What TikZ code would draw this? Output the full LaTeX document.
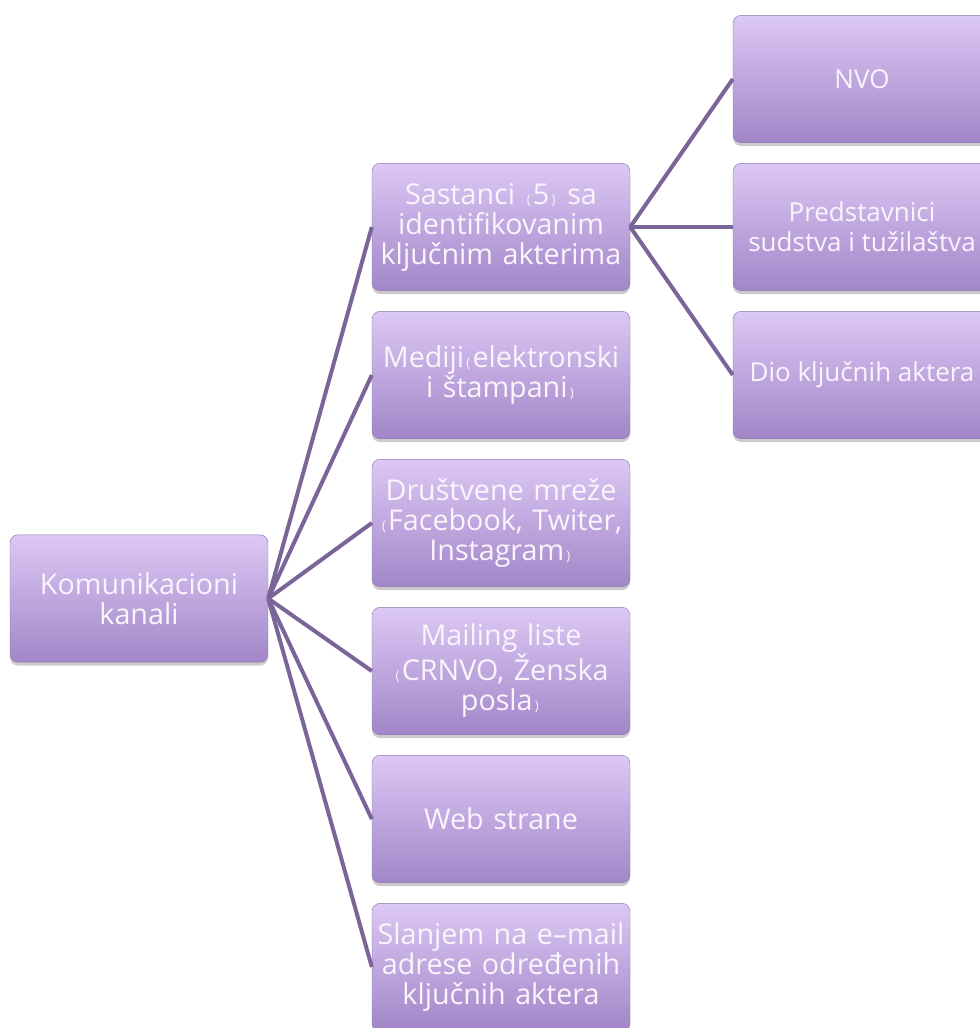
\documentclass[tikz,border=0pt]{standalone}
\usepackage{fontspec}
\setmainfont{Open Sans}
\usetikzlibrary{shadows}

\definecolor{boxtop}{RGB}{220,200,244}
\definecolor{boxbottom}{RGB}{162,134,200}
\definecolor{linkcol}{RGB}{122,101,152}
\definecolor{txtcol}{RGB}{250,244,253}

\newcommand{\smparen}[1]{{\fontsize{10}{10}\selectfont\,#1\,}}

\begin{document}
\begin{tikzpicture}[x=0.75pt,y=0.75pt,yscale=-1,xscale=1,
  okvir/.style={rectangle, rounded corners=6pt, draw=boxbottom!85!black, line width=0.3pt,
    top color=boxtop, bottom color=boxbottom, minimum width=193.5pt, minimum height=95.5pt,
    align=center, text=txtcol, inner sep=0pt,
    drop shadow={opacity=0.4, shadow xshift=0pt, shadow yshift=-2.5pt}},
  kanal/.style={okvir, text width=192pt, font=\fontsize{21.5}{22.5}\selectfont},
  desno/.style={okvir, font=\fontsize{19.5}{22.5}\selectfont},
  veza/.style={draw=linkcol, line width=3pt}]
%set diagram to 980 x 1028
\useasboundingbox (0,0) rectangle (980,1028);
\clip (0,0) rectangle (980,1028);

% Text Node
\node [kanal] (koren) at (139,598.5) {Komunikacioni\\kanali};
% Text Node
\node [kanal] (sastanci) at (501,227) {Sastanci \smparen{(}5\smparen{)} sa\\identifikovanim\\ključnim akterima};
% Text Node
\node [kanal] (mediji) at (501,375) {Mediji\smparen{(}elektronski\\i štampani\smparen{)}};
% Text Node
\node [kanal] (mreze) at (501,523) {Društvene mreže\\\smparen{(}Facebook, Twiter,\\Instagram\smparen{)}};
% Text Node
\node [kanal] (mailing) at (501,671) {Mailing liste\\\smparen{(}CRNVO, Ženska\\posla\smparen{)}};
% Text Node
\node [kanal] (web) at (501,819) {Web strane};
% Text Node
\node [kanal] (slanjem) at (501,967) {Slanjem na e–mail\\adrese određenih\\ključnih aktera};

% Text Node
\node [desno] (nvo) at (862,79) {NVO};
% Text Node
\node [desno] (sudstvo) at (862,227) {Predstavnici\\sudstva i tužilaštva};
% Text Node
\node [desno] (akteri) at (862,375) {Dio ključnih aktera};

%Straight Lines
\foreach \cilj in {sastanci,mediji,mreze,mailing,web,slanjem}
  \draw [veza] (koren.east) -- (\cilj.west);
%Straight Lines
\foreach \cilj in {nvo,sudstvo,akteri}
  \draw [veza] (sastanci.east) -- (\cilj.west);

\end{tikzpicture}
\end{document}
